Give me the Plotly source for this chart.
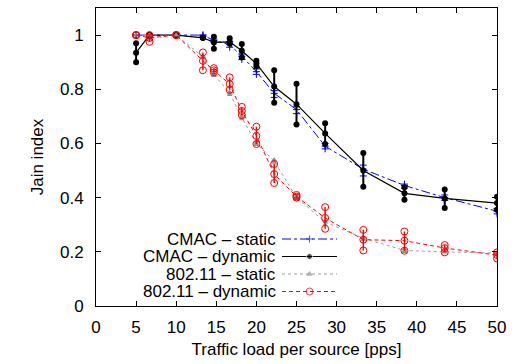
import plotly.graph_objects as go

# ---- data ----
load = [5, 6.67, 10, 13.33, 14.7, 16.67, 18.18, 20, 22.22, 25, 28.57, 33.33, 38.46, 43.48, 50]

cmac_static_mean = [1.0, 1.0, 1.0, 1.0, 0.98, 0.965, 0.922, 0.865, 0.785, 0.725, 0.59, 0.505, 0.445, 0.40, 0.35]
cmac_static_min  = [1.0, 1.0, 1.0, 0.995, 0.975, 0.955, 0.91, 0.855, 0.77, 0.71, 0.58, 0.48, 0.435, 0.39, 0.34]
cmac_static_max  = [1.0, 1.0, 1.0, 1.0, 0.985, 0.975, 0.93, 0.875, 0.795, 0.735, 0.60, 0.52, 0.45, 0.41, 0.36]

cmac_dyn_mean = [0.935, 1.0, 1.0, 0.99, 0.973, 0.975, 0.942, 0.895, 0.81, 0.745, 0.637, 0.50, 0.416, 0.397, 0.38]
cmac_dyn_min  = [0.90, 0.995, 1.0, 0.99, 0.95, 0.968, 0.917, 0.885, 0.75, 0.67, 0.598, 0.44, 0.392, 0.362, 0.355]
cmac_dyn_max  = [0.97, 1.0, 1.0, 0.99, 0.994, 0.988, 0.967, 0.905, 0.87, 0.82, 0.675, 0.565, 0.438, 0.43, 0.403]

w_static_mean = [1.0, 1.0, 1.0, 0.92, 0.855, 0.785, 0.695, 0.60, 0.535, 0.40, 0.31, 0.25, 0.205, 0.20, 0.195]
w_static_min  = [1.0, 1.0, 1.0, 0.915, 0.85, 0.78, 0.69, 0.595, 0.53, 0.395, 0.30, 0.245, 0.20, 0.198, 0.192]
w_static_max  = [1.0, 1.0, 1.0, 0.925, 0.86, 0.79, 0.70, 0.605, 0.54, 0.405, 0.315, 0.255, 0.21, 0.202, 0.198]

w_dyn_mean = [1.0, 0.99, 1.0, 0.905, 0.87, 0.819, 0.72, 0.628, 0.487, 0.404, 0.325, 0.245, 0.241, 0.214, 0.188]
w_dyn_min  = [1.0, 0.975, 1.0, 0.87, 0.862, 0.798, 0.705, 0.598, 0.454, 0.40, 0.285, 0.205, 0.204, 0.198, 0.175]
w_dyn_max  = [1.0, 1.0, 1.0, 0.936, 0.878, 0.844, 0.735, 0.662, 0.524, 0.41, 0.365, 0.281, 0.275, 0.225, 0.198]

series_names = ["CMAC – static", "CMAC – dynamic", "802.11 – static", "802.11 – dynamic"]

x_ticks = [0, 5, 10, 15, 20, 25, 30, 35, 40, 45, 50]
y_ticks = [0, 0.2, 0.4, 0.6, 0.8, 1]
y_tick_labels = ["0", "0.2", "0.4", "0.6", "0.8", "1"]

FONT = "Liberation Sans, Arial, sans-serif"

styles = [
    dict(color="#0000ff", dash="dashdot", width=1, ebw=1,
         marker=dict(symbol="cross-thin", size=5, color="#0000ff", line=dict(width=1, color="#0000ff"))),
    dict(color="#000000", dash="solid", width=1.2, ebw=2,
         marker=dict(symbol="circle", size=6, color="#000000")),
    dict(color="#a0a0a0", dash="dot", width=1, ebw=1,
         marker=dict(symbol="triangle-up", size=5, color="#909090")),
    dict(color="#ff0000", dash="4px,3px", width=1, ebw=1.5,
         marker=dict(symbol="circle-open", size=7, color="#ff0000", line=dict(width=1, color="#ff0000"))),
]

data = [
    (cmac_static_mean, cmac_static_min, cmac_static_max),
    (cmac_dyn_mean, cmac_dyn_min, cmac_dyn_max),
    (w_static_mean, w_static_min, w_static_max),
    (w_dyn_mean, w_dyn_min, w_dyn_max),
]

fig = go.Figure()

for (mean, lo, hi), st, name in zip(data, styles, series_names):
    fig.add_trace(go.Scatter(
        x=load, y=mean, mode="lines+markers", name=name, showlegend=False,
        line=dict(color=st["color"], dash=st["dash"], width=st["width"]),
        marker=st["marker"],
        error_y=dict(type="data", symmetric=False,
                     array=[h - m for h, m in zip(hi, mean)],
                     arrayminus=[m - l for m, l in zip(mean, lo)],
                     color=st["color"] if st["color"] != "#a0a0a0" else "#909090",
                     thickness=st["ebw"], width=0),
    ))
    fig.add_trace(go.Scatter(
        x=load + load, y=lo + hi, mode="markers", showlegend=False,
        marker=st["marker"], hoverinfo="skip",
    ))

# ---- manual legend (text right-aligned, key on the right) in pixel-like overlay axes ----
L, R, T, B = 96, 497, 8, 306
leg_rows = [239, 256.5, 274, 291.5]
key_x0, key_x1 = 282, 337
for row, st, name in zip(leg_rows, styles, series_names):
    fig.add_trace(go.Scatter(
        x=[key_x0, (key_x0 + key_x1) / 2, key_x1], y=[row, row, row],
        xaxis="x2", yaxis="y2", mode="lines+markers", showlegend=False, hoverinfo="skip",
        line=dict(color=st["color"], dash=st["dash"], width=st["width"]),
        marker=dict(st["marker"], size=[0, st["marker"]["size"], 0]),
    ))
    fig.add_annotation(x=277, y=row, xref="x2", yref="y2", text=name, showarrow=False,
                       xanchor="right", yanchor="middle", borderpad=0,
                       font=dict(family=FONT, size=17, color="#000000"))

axis_common = dict(showline=True, linecolor="#000000", linewidth=1, mirror="ticks",
                   ticks="inside", ticklen=5, tickcolor="#000000", tickwidth=1,
                   showgrid=False, zeroline=False,
                   tickfont=dict(family=FONT, size=17, color="#000000"))

fig.update_layout(
    width=519, height=364,
    margin=dict(l=L, r=519 - R, t=T, b=364 - B),
    paper_bgcolor="white", plot_bgcolor="white",
    xaxis=dict(axis_common, range=[0, 50], tickvals=x_ticks, ticklabelstandoff=6,
               title=dict(text="Traffic load per source [pps]", standoff=6,
                          font=dict(family=FONT, size=17, color="#000000"))),
    yaxis=dict(axis_common, range=[0, 1.1], tickvals=y_ticks, ticktext=y_tick_labels,
               ticklabelstandoff=8,
               title=dict(text="Jain index", standoff=12,
                          font=dict(family=FONT, size=17, color="#000000"))),
    xaxis2=dict(range=[L, R], overlaying="x", visible=False, fixedrange=True),
    yaxis2=dict(range=[B, T], overlaying="y", visible=False, fixedrange=True),
    showlegend=False,
)

fig.write_html("out.html")
